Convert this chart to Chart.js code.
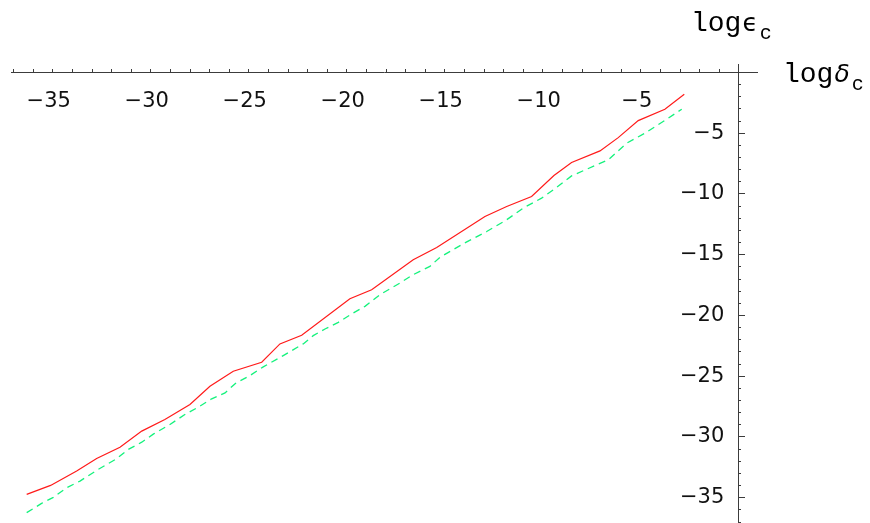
<!DOCTYPE html>
<html>
<head>
<meta charset="utf-8">
<script src="https://cdn.jsdelivr.net/npm/chart.js@4/dist/chart.umd.min.js"></script>
<style>
  html, body { margin: 0; padding: 0; background: #ffffff; }
  #wrap { width: 870px; height: 523px; position: relative; }
</style>
</head>
<body>
<div id="wrap"><canvas id="c"></canvas></div>
<script>
// ---- data (log δc, log εc) ----
const redX = [-36.34, -35.12, -33.79, -32.77, -31.58, -30.47, -29.29, -28.01, -26.99, -25.80,
              -24.35, -23.42, -22.31, -19.85, -18.74, -16.62, -15.42, -12.96, -11.85, -10.58,
              -9.44, -8.54, -7.09, -6.16, -5.14, -3.78, -2.79];
const redY = [-34.73, -33.99, -32.81, -31.77, -30.84, -29.52, -28.56, -27.33, -25.83, -24.59,
              -23.85, -22.34, -21.63, -18.62, -17.88, -15.41, -14.40, -11.85, -11.03, -10.21,
              -8.48, -7.41, -6.45, -5.36, -3.96, -3.02, -1.79];

const greenX = [-36.34, -35.58, -34.98, -34.30, -33.62, -32.76, -31.75, -31.16, -30.47, -29.88,
                -29.03, -28.27, -27.59, -26.90, -26.22, -25.66, -24.95, -24.27, -23.25, -22.23,
                -21.72, -21.12, -20.44, -19.76, -19.08, -18.32, -17.30, -16.62, -15.77, -15.26,
                -14.07, -12.87, -11.85, -11.01, -10.07, -9.47, -8.54, -7.26, -6.67, -5.73,
                -4.80, -3.69, -2.92];
const greenY = [-36.23, -35.47, -34.97, -34.18, -33.63, -32.74, -31.79, -31.03, -30.43, -29.77,
                -28.97, -28.15, -27.55, -26.86, -26.37, -25.55, -24.95, -24.23, -23.30, -22.34,
                -21.66, -21.11, -20.57, -19.87, -19.25, -18.29, -17.33, -16.64, -15.96, -15.22,
                -14.10, -13.09, -12.12, -11.16, -10.34, -9.66, -8.51, -7.60, -7.19, -5.82,
                -5.00, -3.85, -3.02];

const xTickValues = [-35, -30, -25, -20, -15, -10, -5];
const xTickLabels = ['\u221235', '\u221230', '\u221225', '\u221220', '\u221215', '\u221210', '\u22125'];
const yTickValues = [-35, -30, -25, -20, -15, -10, -5];
const yTickLabels = ['\u221235', '\u221230', '\u221225', '\u221220', '\u221215', '\u221210', '\u22125'];

const xAxisTitle = { main: 'log', greek: '\u03B4', sub: 'c', italic: true };
const yAxisTitle = { main: 'log', greek: '\u03F5', sub: 'c', italic: false };

// ---- build ----
const toPts = (xs, ys) => xs.map((x, i) => ({ x: x, y: ys[i] }));
const AXIS = '#3c3c3c';
const TICKFONT = { family: 'DejaVu Sans', size: 21 };

const bgPlugin = {
  id: 'bg',
  beforeDraw(chart) {
    const ctx = chart.ctx;
    ctx.save();
    ctx.fillStyle = '#ffffff';
    ctx.fillRect(0, 0, chart.width, chart.height);
    ctx.restore();
  }
};

function drawAxisLabel(ctx, t, x, y) {
  ctx.save();
  ctx.fillStyle = '#000000';
  ctx.textBaseline = 'alphabetic';
  ctx.textAlign = 'left';
  ctx.font = '28px "Liberation Mono"';
  ctx.fillText(t.main, x, y);
  let cx = x + ctx.measureText(t.main).width + 1;
  ctx.font = (t.italic ? 'italic ' : '') + '25px "DejaVu Sans"';
  ctx.fillText(t.greek, cx, y);
  cx += ctx.measureText(t.greek).width + 2;
  ctx.font = '20px "Liberation Mono"';
  ctx.fillText(t.sub, cx, y + 8);
  ctx.restore();
}

const titlePlugin = {
  id: 'axisTitles',
  afterDraw(chart) {
    const xs = chart.scales.x, ys = chart.scales.y;
    const ctx = chart.ctx;
    drawAxisLabel(ctx, yAxisTitle, xs.getPixelForValue(0) - 48, ys.getPixelForValue(0) - 42);
    drawAxisLabel(ctx, xAxisTitle, xs.getPixelForValue(0) + 44, ys.getPixelForValue(0) + 9);
  }
};

const labelFor = (vals, labs) => (v) => {
  const i = vals.indexOf(v);
  return i >= 0 ? labs[i] : '';
};

function noSpace(horizontal) {
  return function (s) {
    if (horizontal) { s.height = 0; } else { s.width = 0; }
    s.paddingLeft = 0; s.paddingRight = 0; s.paddingTop = 0; s.paddingBottom = 0;
  };
}

new Chart(document.getElementById('c'), {
  type: 'scatter',
  data: {
    datasets: [
      {
        data: toPts(redX, redY),
        showLine: true,
        borderColor: '#ff1a1a',
        borderWidth: 1.2,
        pointRadius: 0,
        fill: false,
        tension: 0
      },
      {
        data: toPts(greenX, greenY),
        showLine: true,
        borderColor: '#14f27c',
        borderWidth: 1.3,
        borderDash: [7, 5],
        pointRadius: 0,
        fill: false,
        tension: 0
      }
    ]
  },
  options: {
    responsive: true,
    maintainAspectRatio: false,
    animation: false,
    events: [],
    layout: { padding: { left: 11, right: 113, top: 64, bottom: 1 } },
    plugins: { legend: { display: false }, tooltip: { enabled: false }, title: { display: false } },
    scales: {
      x: {
        type: 'linear',
        min: -37.14,
        max: 0.92,
        position: { y: 0 },
        afterFit: noSpace(true),
        border: { display: true, color: AXIS, width: 1 },
        grid: { drawOnChartArea: false, drawTicks: true, tickLength: -4, color: AXIS, tickColor: AXIS, tickWidth: 1 },
        ticks: {
          stepSize: 1,
          includeBounds: false,
          autoSkip: false,
          maxRotation: 0,
          minRotation: 0,
          padding: 20,
          color: '#111111',
          font: TICKFONT,
          callback: (v) => {
            const l = labelFor(xTickValues, xTickLabels)(v);
            return l ? l + '\u2009\u2009' : '';
          }
        }
      },
      y: {
        type: 'linear',
        min: -37.0,
        max: 0.7,
        position: { x: 0 },
        afterFit: noSpace(false),
        border: { display: true, color: AXIS, width: 1 },
        grid: { drawOnChartArea: false, drawTicks: true, tickLength: -3, color: AXIS, tickColor: AXIS, tickWidth: 1 },
        ticks: {
          stepSize: 1,
          includeBounds: false,
          autoSkip: false,
          padding: 0,
          color: '#111111',
          font: TICKFONT,
          callback: (v) => {
            const l = labelFor(yTickValues, yTickLabels)(v);
            return l ? l + '\u2002\u2009' : '';
          }
        }
      },
      yMajor: {
        type: 'linear',
        min: -37.0,
        max: 0.7,
        position: { x: 0 },
        afterFit: noSpace(false),
        border: { display: false },
        grid: { drawOnChartArea: false, drawTicks: true, tickLength: -6, color: AXIS, tickColor: AXIS, tickWidth: 1 },
        ticks: { stepSize: 5, includeBounds: false, autoSkip: false, display: false }
      }
    }
  },
  plugins: [bgPlugin, titlePlugin]
});
</script>
</body>
</html>
